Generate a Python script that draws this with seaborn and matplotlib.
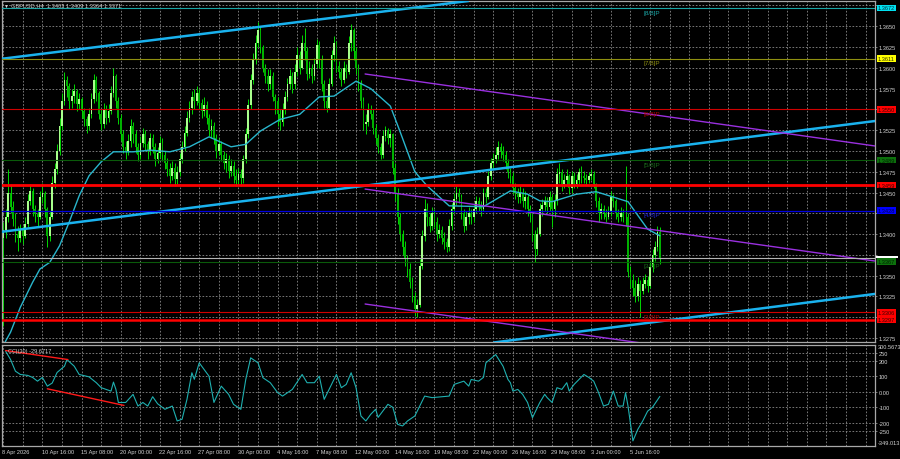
import matplotlib
matplotlib.use("Agg")
import matplotlib.pyplot as plt
import matplotlib.transforms as mtransforms
from matplotlib.patches import Rectangle
import numpy as np
import pandas as pd
import seaborn as sns

# ---- GBPUSD H4 candles, bar 0 = 8 Apr 2026 00:00 ----
first_open = 1.3395
closes = [
    1.3405, 1.3420, 1.3450, 1.3432, 1.3418, 1.3400, 1.3395, 1.3405, 1.3398, 1.3412,
    1.3440, 1.3452, 1.3430, 1.3424, 1.3420, 1.3445, 1.3450, 1.3430, 1.3398, 1.3420,
    1.3462, 1.3478, 1.3500, 1.3530, 1.3560, 1.3585, 1.3578, 1.3560, 1.3566, 1.3572,
    1.3556, 1.3562, 1.3548, 1.3538, 1.3530, 1.3545, 1.3562, 1.3585, 1.3570, 1.3545,
    1.3532, 1.3550, 1.3540, 1.3548, 1.3570, 1.3590, 1.3560, 1.3540, 1.3520, 1.3505,
    1.3500, 1.3512, 1.3530, 1.3520, 1.3505, 1.3495, 1.3510, 1.3520, 1.3508, 1.3500,
    1.3515, 1.3505, 1.3490, 1.3498, 1.3510, 1.3495, 1.3485, 1.3478, 1.3470, 1.3480,
    1.3466, 1.3475, 1.3490, 1.3505, 1.3522, 1.3540, 1.3552, 1.3565, 1.3560, 1.3570,
    1.3558, 1.3548, 1.3555, 1.3540, 1.3525, 1.3530, 1.3515, 1.3500, 1.3508, 1.3495,
    1.3485, 1.3490, 1.3476, 1.3482, 1.3470, 1.3465, 1.3472, 1.3468, 1.3490, 1.3520,
    1.3555, 1.3585, 1.3610, 1.3630, 1.3645, 1.3625, 1.3600, 1.3590, 1.3580, 1.3590,
    1.3565, 1.3560, 1.3545, 1.3535, 1.3550, 1.3565, 1.3580, 1.3590, 1.3580, 1.3595,
    1.3615, 1.3600, 1.3630, 1.3620, 1.3592, 1.3600, 1.3590, 1.3605, 1.3628, 1.3610,
    1.3580, 1.3560, 1.3552, 1.3580, 1.3615, 1.3630, 1.3602, 1.3595, 1.3585, 1.3600,
    1.3595, 1.3630, 1.3645, 1.3620, 1.3600, 1.3580, 1.3560, 1.3532, 1.3535, 1.3550,
    1.3545, 1.3528, 1.3515, 1.3505, 1.3495, 1.3518, 1.3525, 1.3515, 1.3520, 1.3480,
    1.3450, 1.3420, 1.3400, 1.3385, 1.3370, 1.3358, 1.3342, 1.3325, 1.3310, 1.3315,
    1.3362, 1.3398, 1.3430, 1.3420, 1.3410, 1.3425, 1.3415, 1.3400, 1.3405, 1.3395,
    1.3390, 1.3385, 1.3410, 1.3430, 1.3442, 1.3450, 1.3445, 1.3425, 1.3410, 1.3420,
    1.3425, 1.3420, 1.3430, 1.3440, 1.3435, 1.3430, 1.3450, 1.3445, 1.3470, 1.3485,
    1.3490, 1.3495, 1.3505, 1.3500, 1.3495, 1.3485, 1.3475, 1.3470, 1.3455, 1.3450,
    1.3445, 1.3450, 1.3440, 1.3445, 1.3430, 1.3425, 1.3400, 1.3382, 1.3400, 1.3430,
    1.3435, 1.3440, 1.3432, 1.3445, 1.3430, 1.3440, 1.3472, 1.3475, 1.3460, 1.3465,
    1.3470, 1.3455, 1.3470, 1.3460, 1.3465, 1.3475, 1.3470, 1.3468, 1.3465, 1.3470,
    1.3472, 1.3460, 1.3440, 1.3425, 1.3430, 1.3425, 1.3420, 1.3428, 1.3445, 1.3440,
    1.3425, 1.3420, 1.3425, 1.3420, 1.3420, 1.3355, 1.3345, 1.3335, 1.3325, 1.3340,
    1.3332, 1.3340, 1.3345, 1.3338, 1.3360, 1.3375, 1.3385, 1.3403, 1.3371,
]
highs = [
    1.3415, 1.3430, 1.3478, 1.3460, 1.3440, 1.3425, 1.3410, 1.3412, 1.3410, 1.3420,
    1.3448, 1.3460, 1.3455, 1.3435, 1.3430, 1.3452, 1.3462, 1.3452, 1.3432, 1.3428,
    1.3470, 1.3485, 1.3508, 1.3540, 1.3570, 1.3595, 1.3590, 1.3582, 1.3575, 1.3580,
    1.3575, 1.3570, 1.3565, 1.3552, 1.3542, 1.3552, 1.3570, 1.3592, 1.3590, 1.3572,
    1.3550, 1.3558, 1.3555, 1.3556, 1.3578, 1.3600, 1.3592, 1.3565, 1.3545, 1.3525,
    1.3512, 1.3520, 1.3538, 1.3535, 1.3525, 1.3510, 1.3518, 1.3528, 1.3525, 1.3512,
    1.3522, 1.3520, 1.3510, 1.3505, 1.3518, 1.3515, 1.3500, 1.3492, 1.3485, 1.3488,
    1.3485, 1.3482, 1.3498, 1.3512, 1.3530, 1.3548, 1.3560, 1.3572, 1.3575, 1.3578,
    1.3575, 1.3562, 1.3565, 1.3560, 1.3545, 1.3538, 1.3535, 1.3520, 1.3515, 1.3512,
    1.3500, 1.3498, 1.3495, 1.3490, 1.3488, 1.3478, 1.3480, 1.3478, 1.3495, 1.3528,
    1.3562, 1.3592, 1.3618, 1.3640, 1.3655, 1.3650, 1.3628, 1.3605, 1.3598, 1.3598,
    1.3595, 1.3568, 1.3565, 1.3550, 1.3558, 1.3572, 1.3588, 1.3598, 1.3595, 1.3605,
    1.3625, 1.3620, 1.3640, 1.3648, 1.3625, 1.3608, 1.3605, 1.3612, 1.3635, 1.3632,
    1.3615, 1.3585, 1.3565, 1.3588, 1.3622, 1.3638, 1.3632, 1.3608, 1.3600, 1.3608,
    1.3605, 1.3638, 1.3653, 1.3648, 1.3625, 1.3605, 1.3585, 1.3565, 1.3545, 1.3558,
    1.3555, 1.3550, 1.3532, 1.3520, 1.3510, 1.3525, 1.3530, 1.3528, 1.3526, 1.3522,
    1.3485, 1.3455, 1.3425, 1.3405, 1.3392, 1.3375, 1.3365, 1.3348, 1.3330, 1.3322,
    1.3370, 1.3405, 1.3442, 1.3438, 1.3425, 1.3432, 1.3430, 1.3420, 1.3412, 1.3410,
    1.3402, 1.3395, 1.3418, 1.3438, 1.3450, 1.3458, 1.3455, 1.3448, 1.3430, 1.3428,
    1.3432, 1.3430, 1.3438, 1.3446, 1.3445, 1.3440, 1.3456, 1.3455, 1.3476, 1.3492,
    1.3498, 1.3505, 1.3512, 1.3510, 1.3506, 1.3500, 1.3490, 1.3480, 1.3475, 1.3462,
    1.3456, 1.3458, 1.3455, 1.3452, 1.3448, 1.3435, 1.3428, 1.3405, 1.3408, 1.3438,
    1.3442, 1.3446, 1.3445, 1.3452, 1.3448, 1.3448, 1.3480, 1.3485, 1.3478, 1.3472,
    1.3478, 1.3472, 1.3476, 1.3475, 1.3472, 1.3480, 1.3482, 1.3476, 1.3472, 1.3475,
    1.3478, 1.3476, 1.3462, 1.3445, 1.3438, 1.3435, 1.3430, 1.3434, 1.3452, 1.3448,
    1.3442, 1.3430, 1.3432, 1.3430, 1.3482, 1.3425, 1.3362, 1.3352, 1.3345, 1.3348,
    1.3345, 1.3348, 1.3352, 1.3350, 1.3368, 1.3382, 1.3392, 1.3410, 1.3409,
]
lows = [
    1.3290, 1.3395, 1.3415, 1.3425, 1.3410, 1.3390, 1.3380, 1.3390, 1.3388, 1.3395,
    1.3408, 1.3435, 1.3422, 1.3415, 1.3410, 1.3418, 1.3438, 1.3420, 1.3385, 1.3392,
    1.3418, 1.3455, 1.3472, 1.3495, 1.3525, 1.3555, 1.3565, 1.3550, 1.3552, 1.3558,
    1.3548, 1.3550, 1.3540, 1.3530, 1.3522, 1.3525, 1.3540, 1.3558, 1.3560, 1.3538,
    1.3525, 1.3528, 1.3532, 1.3535, 1.3545, 1.3565, 1.3552, 1.3532, 1.3512, 1.3498,
    1.3490, 1.3495, 1.3505, 1.3510, 1.3498, 1.3488, 1.3490, 1.3505, 1.3500, 1.3490,
    1.3495, 1.3498, 1.3482, 1.3485, 1.3492, 1.3488, 1.3478, 1.3470, 1.3462, 1.3465,
    1.3458, 1.3460, 1.3470, 1.3485, 1.3500, 1.3518, 1.3535, 1.3545, 1.3550, 1.3555,
    1.3550, 1.3540, 1.3542, 1.3532, 1.3518, 1.3515, 1.3508, 1.3492, 1.3495, 1.3488,
    1.3478, 1.3475, 1.3468, 1.3470, 1.3462, 1.3458, 1.3460, 1.3458, 1.3462, 1.3485,
    1.3515, 1.3550, 1.3580, 1.3605, 1.3625, 1.3618, 1.3595, 1.3582, 1.3572, 1.3575,
    1.3560, 1.3545, 1.3530, 1.3525, 1.3530, 1.3545, 1.3560, 1.3575, 1.3570, 1.3575,
    1.3590, 1.3592, 1.3598, 1.3610, 1.3585, 1.3588, 1.3582, 1.3585, 1.3600, 1.3600,
    1.3572, 1.3552, 1.3547, 1.3550, 1.3578, 1.3608, 1.3595, 1.3588, 1.3578, 1.3582,
    1.3588, 1.3592, 1.3620, 1.3610, 1.3592, 1.3572, 1.3552, 1.3525, 1.3520, 1.3530,
    1.3538, 1.3520, 1.3508, 1.3498, 1.3490, 1.3492, 1.3512, 1.3508, 1.3505, 1.3472,
    1.3440, 1.3412, 1.3392, 1.3375, 1.3362, 1.3348, 1.3335, 1.3318, 1.3302, 1.3300,
    1.3312, 1.3358, 1.3392, 1.3410, 1.3402, 1.3405, 1.3408, 1.3392, 1.3395, 1.3388,
    1.3382, 1.3378, 1.3380, 1.3405, 1.3425, 1.3435, 1.3438, 1.3418, 1.3402, 1.3405,
    1.3412, 1.3412, 1.3415, 1.3425, 1.3428, 1.3422, 1.3428, 1.3438, 1.3442, 1.3465,
    1.3478, 1.3485, 1.3490, 1.3492, 1.3488, 1.3478, 1.3468, 1.3462, 1.3448, 1.3442,
    1.3438, 1.3438, 1.3432, 1.3430, 1.3422, 1.3415, 1.3392, 1.3367, 1.3375, 1.3398,
    1.3422, 1.3428, 1.3425, 1.3428, 1.3408, 1.3420, 1.3435, 1.3462, 1.3452, 1.3455,
    1.3458, 1.3448, 1.3450, 1.3455, 1.3456, 1.3460, 1.3462, 1.3462, 1.3460, 1.3462,
    1.3465, 1.3455, 1.3432, 1.3415, 1.3418, 1.3418, 1.3415, 1.3418, 1.3422, 1.3432,
    1.3418, 1.3415, 1.3416, 1.3414, 1.3410, 1.3348, 1.3335, 1.3325, 1.3318, 1.3320,
    1.3300, 1.3328, 1.3335, 1.3330, 1.3335, 1.3355, 1.3368, 1.3380, 1.3364,
]

# moving average drawn on the price panel (sampled along the curve)
ma_bars = [0, 3, 7, 12, 15, 19, 23, 27, 31, 35, 40, 45, 53, 60, 68, 76, 84, 93, 99, 105,
           113, 121, 129, 135, 144, 150, 158, 162, 168, 173, 182, 196, 207, 214, 219, 224,
           234, 242, 255, 263, 268]
ma_vals = [1.3266, 1.3282, 1.3312, 1.3342, 1.3358, 1.3366, 1.3386, 1.3415, 1.3446, 1.3470,
           1.3487, 1.3499, 1.3499, 1.3501, 1.3499, 1.3505, 1.3517, 1.3505, 1.3508, 1.3524,
           1.3538, 1.3544, 1.3565, 1.3566, 1.3584, 1.3575, 1.3554, 1.3523, 1.3475, 1.3458,
           1.3434, 1.3433, 1.3452, 1.3448, 1.3440, 1.3439, 1.3448, 1.3451, 1.3439, 1.3406,
           1.3398]

# CCI(30) sub-window
cci_bars = [1, 3, 5, 7, 10, 12, 14, 16, 18, 20, 22, 25, 26, 29, 31, 35, 38, 40, 44, 45,
            46, 47, 50, 53, 55, 57, 59, 61, 63, 66, 69, 71, 73, 75, 77, 78, 80, 84, 86, 89,
            92, 94, 97, 99, 101, 104, 106, 109, 112, 114, 118, 122, 124, 127, 129, 131, 133,
            136, 138, 140, 142, 144, 146, 148, 150, 152, 153, 157, 159, 161, 163, 165, 168,
            172, 175, 182, 184, 188, 190, 191, 194, 196, 197, 201, 204, 206, 207, 208, 210,
            212, 214, 216, 219, 221, 222, 224, 226, 228, 230, 231, 233, 237, 239, 241, 243,
            245, 247, 249, 251, 253, 254, 255, 257, 259, 261, 263, 265, 268]
cci_vals = [260, 207, 132, 111, 105, 92, 68, 92, 36, 56, 124, 164, 207, 164, 111, 96, 58, 26,
            4, 62, 15, -69, -69, -17, -92, -69, -92, -32, -77, -113, -92, -188, -177, -49,
            122, 80, 186, 100, -69, 36, -17, -81, -113, 79, 218, 186, 90, 58, -6, -28, 15,
            111, 58, 58, 100, -49, 15, 111, 26, 47, 122, 26, -156, -188, -145, -113, -165,
            -81, -100, -210, -220, -188, -156, -28, -38, -28, 47, 68, 36, 79, 68, 92, 186,
            239, 164, 79, 58, 4, 15, -17, -69, -167, -69, -17, -38, -69, 26, 15, 58, 4, 47,
            111, 92, 68, -6, -92, -81, 4, -92, -92, -6, -92, -316, -242, -188, -125, -100, -30]
cci_min, cci_max = -349.013, 300.5673

# time axis labels, one every 16 bars
date_labels = ["8 Apr 2026", "10 Apr 16:00", "15 Apr 08:00", "20 Apr 00:00", "22 Apr 16:00",
               "27 Apr 08:00", "30 Apr 00:00", "4 May 16:00", "7 May 08:00", "12 May 00:00",
               "14 May 16:00", "19 May 08:00", "22 May 00:00", "26 May 16:00", "29 May 08:00",
               "3 Jun 00:00", "5 Jun 16:00"]

# price scale: labels hidden behind the level boxes are left blank
price_ticks = [1.3275, 1.3300, 1.3325, 1.3350, 1.3375, 1.3400, 1.3425, 1.3450, 1.3475,
               1.3500, 1.3525, 1.3550, 1.3575, 1.3600, 1.3625, 1.3650, 1.3675]
price_tick_labels = ["1.3275", "", "1.3325", "1.3350", "", "1.3400", "", "1.3450", "1.3475",
                     "1.3500", "1.3525", "", "1.3575", "1.3600", "1.3625", "1.3650", ""]

# horizontal levels (Murrey math + support/resistance)
level_prices = [1.3672, 1.3611, 1.3550, 1.3489, 1.3459, 1.3428, 1.3367, 1.3306, 1.3297]
level_tags = ["[8/8]P", "[7/8]P", "[6/8]P", "[5/8]P", "", "[4/8]P", "[3/8]P", "[2/8]P", ""]
bid_price = 1.3371

# trend lines: (bar, price) -> (bar, price)
channel_lines = [(-1.3, 1.36106, 190, 1.36805),
                 (-1.3, 1.34025, 356, 1.35361),
                 (200, 1.32695, 356, 1.33281)]
purple_lines = [(147.7, 1.35926, 355.8, 1.35060),
                (147.7, 1.34542, 355.8, 1.33676),
                (147.7, 1.33159, 355.8, 1.32293)]
cci_lines = [(1, 265, 26.4, 207), (18, 19, 49.3, -88)]

# ---- styles ----
# (line colour, line width, box colour, box text colour, tag colour)
level_styles = [
    ("#1aa6a6", 0.8, "#00e0f0", "#003040", "#1aa6a6"),
    ("#8f8f10", 0.8, "#ffff00", "#303000", "#8f8f10"),
    ("#d00000", 0.8, "#ff0000", "#3a0000", "#b00000"),
    ("#0a5a0a", 0.8, "#0c700c", "#002000", "#1a6a1a"),
    ("#ff0000", 2.0, "#ff0000", "#3a0000", None),
    ("#0000e0", 0.9, "#0000ff", "#00004a", "#2020d0"),
    ("#0a5a0a", 0.8, "#0c700c", "#002000", "#1a6a1a"),
    ("#d00000", 0.8, "#ff0000", "#3a0000", "#b00000"),
    ("#ff0000", 1.8, "#ff0000", "#3a0000", None),
]
BG = "black"
GRID = "#8a8a8a"
FRAME = "#a8a8a8"
TXT = "#d4d4d4"
WICK = "#00d800"
BULL = "#a8ff8c"
BEAR = "#00b000"
FS = 4.1

sns.set_theme(style="dark", rc={"axes.facecolor": BG, "figure.facecolor": BG,
                                "axes.edgecolor": FRAME, "savefig.facecolor": BG})
plt.rcParams["font.family"] = ["Liberation Sans", "DejaVu Sans"]

fig = plt.figure(figsize=(9, 4.6), dpi=100)
ax = fig.add_axes([2 / 900, 1 - 343 / 460, 873 / 900, 341 / 460])
ax_cci = fig.add_axes([2 / 900, 1 - 447 / 460, 873 / 900, 101 / 460])

xlim = (-0.49, 355.8)
for a in (ax, ax_cci):
    a.set_xlim(*xlim)
    a.set_xticks(range(0, 356, 8))
    a.tick_params(axis="x", length=0, labelbottom=False)
    a.grid(True, color=GRID, linestyle=(0, (2, 2)), linewidth=0.6)
    a.set_axisbelow(True)
    for s in a.spines.values():
        s.set_color(FRAME)
        s.set_linewidth(0.9)
    a.yaxis.tick_right()
    a.tick_params(axis="y", length=1.5, width=0.5, color=FRAME, labelsize=FS,
                  labelcolor=TXT, pad=1.2)

# ---- price panel ----
ax.set_ylim(1.32702, 1.36804)
ax.set_yticks(price_ticks)
ax.set_yticklabels(price_tick_labels)

opens = np.array([first_open] + closes[:-1])
c = np.array(closes)
x = np.arange(len(c))
body = c - opens
body = np.where(np.abs(body) < 0.00006, np.where(body >= 0, 0.00006, -0.00006), body)
up = c >= opens
ax.vlines(x, lows, highs, color=WICK, linewidth=0.7, zorder=2)
ax.bar(x[up], body[up], bottom=opens[up], width=0.72, color=BULL, linewidth=0, zorder=2.5)
ax.bar(x[~up], body[~up], bottom=opens[~up], width=0.72, color=BEAR, linewidth=0, zorder=2.5)

ma_df = pd.DataFrame({"bar": ma_bars, "price": ma_vals})
sns.lineplot(data=ma_df, x="bar", y="price", ax=ax, color="#29b6cc", linewidth=1.0,
             zorder=3, estimator=None)

for (b0, p0, b1, p1) in channel_lines:
    ax.plot([b0, b1], [p0, p1], color="#1ab2ee", linewidth=1.8, zorder=4,
            solid_capstyle="butt")
for (b0, p0, b1, p1) in purple_lines:
    ax.plot([b0, b1], [p0, p1], color="#9a30e0", linewidth=1.0, zorder=4)

ytr = ax.get_yaxis_transform()
# bid line and its (mostly covered) white price box
ax.axhline(bid_price, color="#b4b4b4", linewidth=0.8, zorder=4.5)
ax.add_patch(Rectangle((1.0016, bid_price), 0.025, 0.0003, transform=ytr,
                       facecolor="white", edgecolor="none", clip_on=False, zorder=9))

for price, tag, (lc, lw, bc, tc, gc) in zip(level_prices, level_tags, level_styles):
    ax.axhline(price, color=lc, linewidth=lw, zorder=4.5)
    if tag:
        ax.annotate(tag, xy=(261.5, price), xytext=(0, -1.2), textcoords="offset points",
                    ha="left", va="top", fontsize=4.6, color=gc, zorder=5)

for price, (lc, lw, bc, tc, gc) in zip(level_prices, level_styles):
    ax.text(1.0033, price, f"{price:.4f}", transform=ytr, ha="left", va="center",
            fontsize=FS, color=tc, clip_on=False, zorder=10,
            bbox=dict(boxstyle="square,pad=0.15", fc=bc, ec="none"))

fig.text(4 / 900, 1 - 6 / 460, "\u25bc", fontsize=3.6, color=TXT, va="center", ha="left")
fig.text(11 / 900, 1 - 6 / 460, "GBPUSD,H4  1.3403 1.3409 1.3364 1.3371", fontsize=FS,
         color=TXT, va="center", ha="left")

# ---- CCI panel ----
ax_cci.set_ylim(cci_min, cci_max)
ax_cci.set_yticks([250, 200, 100, 0, -100, -200, -250])
ax_cci.set_yticklabels(["250", "200", "100", "0.00", "-100", "-200", "-250"])
cci_df = pd.DataFrame({"bar": cci_bars, "cci": cci_vals})
sns.lineplot(data=cci_df, x="bar", y="cci", ax=ax_cci, color="#1fb0b0", linewidth=0.8,
             estimator=None, zorder=3)
for (b0, v0, b1, v1) in cci_lines:
    ax_cci.plot([b0, b1], [v0, v1], color="#ff1a1a", linewidth=1.0, zorder=4)

fig.text(878 / 900, 1 - 347.5 / 460, f"{cci_max:.4f}", fontsize=FS, color=TXT, va="center")
fig.text(878 / 900, 1 - 443.3 / 460, f"{cci_min:.3f}", fontsize=FS, color=TXT, va="center")
fig.text(8 / 900, 1 - 351.5 / 460, "CCI(30) -29.6717", fontsize=FS, color=TXT, va="center")

xtr = mtransforms.blended_transform_factory(ax_cci.transData, ax_cci.transAxes)
for k, lbl in enumerate(date_labels):
    ax_cci.text(16 * k - 0.3, -0.05, lbl, transform=xtr, ha="left", va="center",
                fontsize=FS, color=TXT, clip_on=False)

for a in (ax, ax_cci):
    a.set_xlabel("")
    a.set_ylabel("")
fig.savefig("out.png", dpi=100, facecolor=BG)
